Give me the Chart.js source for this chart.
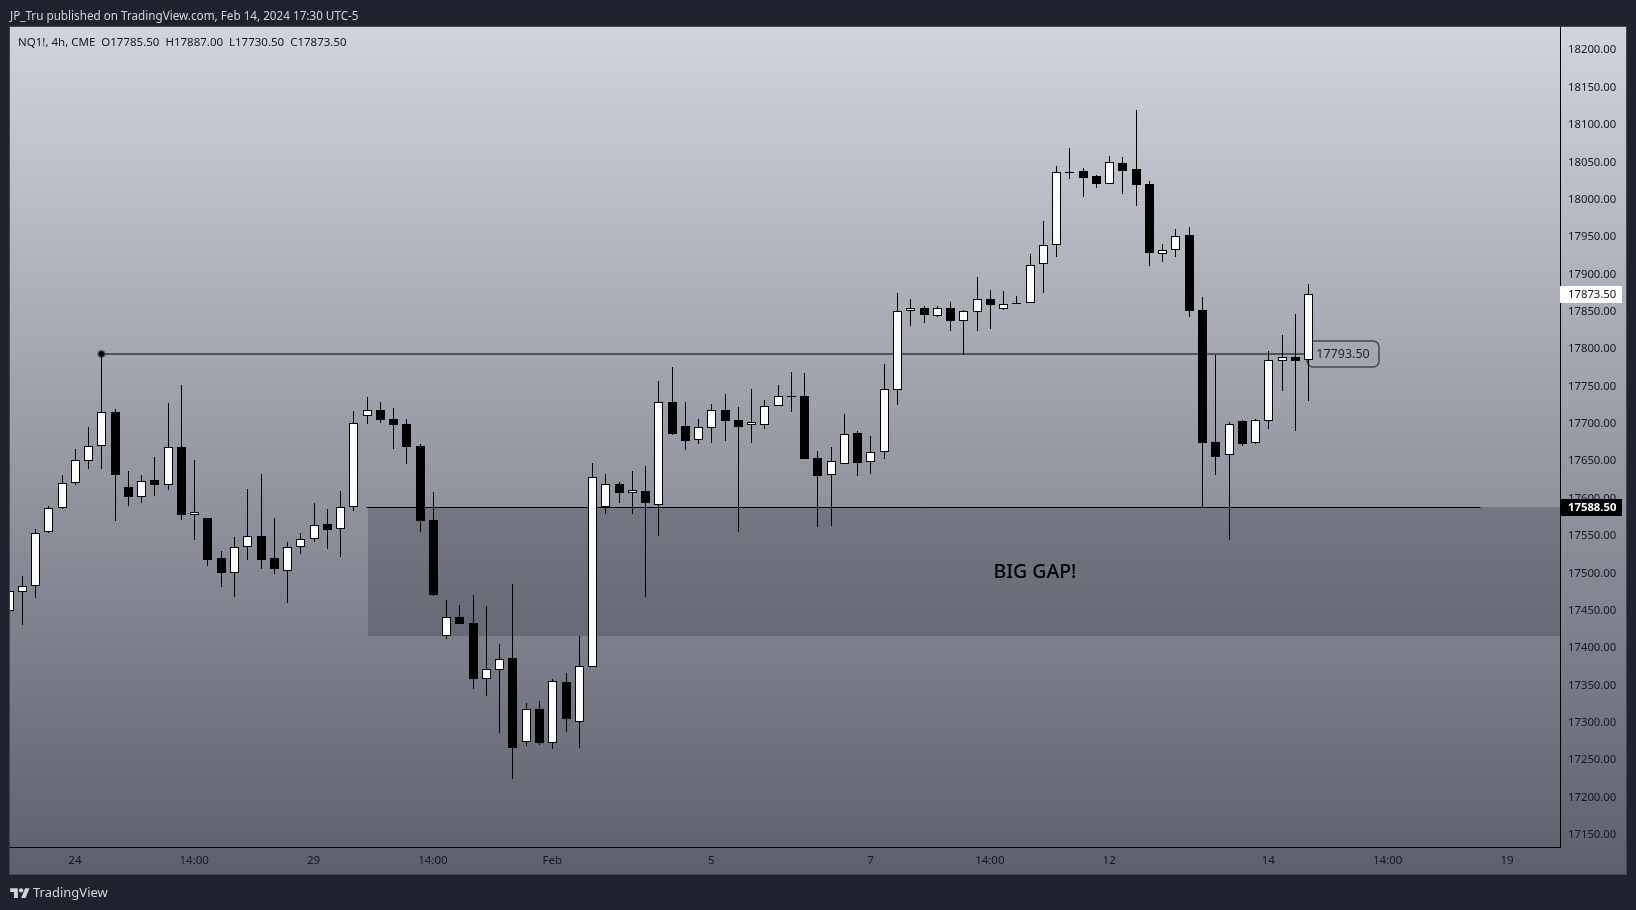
<!DOCTYPE html>
<html>
<head>
<meta charset="utf-8">
<title>NQ1! 4h</title>
<script src="https://cdn.jsdelivr.net/npm/chart.js@4"></script>
<style>
  html, body { margin: 0; padding: 0; width: 1636px; height: 910px; overflow: hidden; background: #1e222d; font-family: "Noto Sans", sans-serif; }
  canvas { position: absolute; left: 0; top: 0; }
  .note { position: absolute; white-space: pre; font-size: 11.7px; line-height: 16px; }
  #published { left: 10px; top: 7px; color: #d1d4dc; }
  #ohlc { left: 18px; top: 34px; color: #131722; font-size: 11.5px; }
  #brand { left: 33px; top: 884px; color: #d1d4dc; font-size: 13px; }
  #logo { position: absolute; left: 10px; top: 886px; }
</style>
</head>
<body>
<canvas id="nqChart" width="1636" height="910"></canvas>
<div class="note" id="published">JP_Tru published on TradingView.com, Feb 14, 2024 17:30 UTC-5</div>
<div class="note" id="ohlc">NQ1!, 4h, CME  O17785.50  H17887.00  L17730.50  C17873.50</div>
<svg id="logo" width="20" height="12" viewBox="0 0 36 22"><path fill="#d1d4dc" d="M14 22H7V11H0V4h14v18zM28 22h-8l7.5-18h8L28 22z"/><circle fill="#d1d4dc" cx="20" cy="8" r="4"/></svg>
<div class="note" id="brand">TradingView</div>
<script>
// candles, one per 4h bar
const opens = [
  17449.5, 17475, 17483, 17555, 17587, 17620.5, 17651, 17670, 17715.5, 17616,
  17602, 17625.5, 17618, 17669, 17578, 17573.5, 17520, 17500.5, 17535, 17550,
  17520, 17503, 17535, 17546, 17565.5, 17559, 17588.5, 17711, 17718.5, 17707,
  17700, 17671, 17572, 17416.5, 17441.5, 17433.5, 17359, 17371, 17386.5, 17275,
  17318.5, 17273.5, 17354.5, 17301.5, 17375, 17589, 17620, 17607, 17610.5, 17591,
  17729.5, 17697.5, 17678, 17694, 17718.5, 17705.5, 17698, 17698, 17724.5, 17737,
  17737, 17654.5, 17631, 17646, 17687.5, 17648.5, 17662, 17746, 17851.5, 17855.5,
  17844.5, 17854.5, 17838, 17850, 17867.5, 17853.5, 17861.5, 17862, 17914, 17939.5,
  18037, 18039, 18031, 18021, 18049.5, 18040.5, 18020.5, 17927.5, 17932.5, 17952.5,
  17852, 17676, 17658, 17704, 17674, 17703.5, 17784.5, 17789.5, 17785.5
];
const highs = [
  17480, 17496, 17559.5, 17589.5, 17632, 17667, 17696, 17793.5, 17719.5, 17637.5,
  17632, 17656, 17728, 17752, 17652, 17573.5, 17529.5, 17548, 17613.5, 17633.5,
  17574.5, 17542.5, 17554.5, 17593.5, 17585.5, 17610.5, 17717.5, 17736, 17729.5, 17721.5,
  17707, 17673.5, 17609.5, 17464, 17457.5, 17470.5, 17456, 17405.5, 17485.5, 17326.5,
  17329, 17358.5, 17366.5, 17416, 17648, 17633.5, 17622.5, 17637.5, 17644, 17757.5,
  17776, 17729.5, 17706.5, 17727, 17740, 17723, 17747, 17732, 17752, 17769.5,
  17768, 17664, 17669.5, 17713.5, 17690.5, 17684, 17780, 17875, 17867, 17857.5,
  17857.5, 17863, 17852, 17897, 17879, 17877.5, 17871, 17927, 17971, 18044.5,
  18069.5, 18043, 18033.5, 18059, 18056.5, 18120.5, 18024.5, 17940.5, 17960.5, 17963,
  17869.5, 17792, 17702.5, 17705.5, 17707, 17797.5, 17819, 17847, 17887
];
const lows = [
  17440, 17430.5, 17467, 17553.5, 17585.5, 17618.5, 17639, 17639, 17570.5, 17590.5,
  17594.5, 17604, 17612, 17572, 17544, 17510.5, 17481.5, 17468, 17518.5, 17505.5,
  17498.5, 17460, 17525.5, 17541.5, 17532, 17521.5, 17584, 17700, 17701.5, 17667,
  17646.5, 17556, 17469.5, 17412, 17432, 17345, 17336, 17286.5, 17225, 17269,
  17270.5, 17265, 17288, 17266.5, 17375, 17580, 17594.5, 17580, 17468, 17550.5,
  17685.5, 17665.5, 17673.5, 17674.5, 17677.5, 17556, 17674.5, 17693.5, 17724.5, 17716,
  17653.5, 17562.5, 17564, 17646, 17630.5, 17633.5, 17653.5, 17725.5, 17831, 17835,
  17843, 17824, 17792, 17824, 17827, 17852, 17860, 17862, 17875, 17923,
  18027, 18003, 18015, 18021, 18007, 17991, 17911, 17916.5, 17923, 17843,
  17589, 17632, 17544, 17671, 17672.5, 17693.5, 17744, 17691, 17730.5
];
const closes = [
  17476, 17483.5, 17554.5, 17587.5, 17621, 17651.5, 17670.5, 17715.5, 17631, 17602,
  17623.5, 17618, 17669, 17578, 17581, 17518.5, 17500.5, 17535.5, 17550, 17518.5,
  17505.5, 17535.5, 17546.5, 17565, 17558.5, 17589, 17701, 17718.5, 17705.5, 17699,
  17669.5, 17570.5, 17470.5, 17441, 17432, 17358.5, 17371.5, 17385, 17266.5, 17318,
  17273, 17355.5, 17305, 17375.5, 17629, 17619.5, 17608, 17610.5, 17593.5, 17729,
  17687, 17677.5, 17695.5, 17718.5, 17704, 17696, 17702.5, 17723.5, 17737, 17735.5,
  17653.5, 17630.5, 17650.5, 17686.5, 17648, 17662.5, 17746.5, 17851.5, 17855.5, 17845.5,
  17854.5, 17837.5, 17850.5, 17867.5, 17859, 17861, 17860, 17913, 17940, 18037,
  18036, 18029.5, 18020.5, 18050.5, 18039, 18019, 17928.5, 17933, 17952, 17851,
  17675, 17656, 17699.5, 17673.5, 17705, 17785, 17789, 17784.5, 17873.5
];

// axes
const slotCount = 118;
const tickSlots = [5, 14, 23, 32, 41, 53, 65, 74, 83, 95, 104, 113];
const tickLabels = ["24", "14:00", "29", "14:00", "Feb", "5", "7", "14:00", "12", "14", "14:00", "19"];
const priceTicks = [
  17150, 17200, 17250, 17300, 17350, 17400, 17450, 17500, 17550, 17600, 17650, 17700,
  17750, 17800, 17850, 17900, 17950, 18000, 18050, 18100, 18150, 18200
];
const priceMin = 17133.9;
const priceMax = 18231;

// drawings on the chart
const levelPrice = 17793.5;
const levelStart = 7;
const levelEnd = 98;
const gapTop = 17588.5;
const gapBottom = 17416.5;
const gapStart = 27;
const gapLineEnd = 111;
const gapText = "BIG GAP!";
const gapTextSlot = 77.4;
const gapTextPrice = 17501;
const lastPrice = 17873.5;

const categories = Array.from({ length: slotCount }, (_, i) => {
  const at = tickSlots.indexOf(i);
  return at >= 0 ? tickLabels[at] : "";
});
const bodies = opens.map((o, i) => [o, closes[i]]);
const wicks = lows.map((l, i) => [l, highs[i]]);
const bodyColors = opens.map((o, i) => (closes[i] > o ? "#ffffff" : "#000000"));

function lineBetween(from, to, price) {
  const pts = new Array(slotCount).fill(null);
  pts[from] = price;
  pts[to] = price;
  return pts;
}

// panel gradient behind everything
const panelBackground = {
  id: "panelBackground",
  beforeDraw(chart) {
    const c = chart.ctx;
    const top = chart.chartArea.top;
    const bottom = chart.scales.x.bottom;
    const g = c.createLinearGradient(0, top, 0, bottom);
    g.addColorStop(0, "#d1d4dc");
    g.addColorStop(1, "#5d606b");
    c.fillStyle = g;
    c.fillRect(10, top, 1616, bottom - top);
  },
};

// keep the candles on whole pixels like the original
const snapToPixels = {
  id: "snapToPixels",
  afterDatasetsUpdate(chart) {
    chart.data.datasets.forEach((ds, d) => {
      const meta = chart.getDatasetMeta(d);
      meta.data.forEach((el, i) => {
        if (ds.type === "line") {
          el.y = Math.round(el.y) + (ds.borderWidth % 2 ? 0.5 : 0);
          return;
        }
        el.x = Math.round(el.x) + 0.5;
        el.y = Math.round(el.y);
        el.base = Math.round(el.base);
        if (el.y === el.base) el.y -= 1;
        // a small white body still shows white between its borders
        if (d === 0 && bodyColors[i] === "#ffffff" && el.base - el.y < 3) el.y = el.base - 3;
      });
    });
  },
};

// gap zone and callout under the candles
const underCandles = {
  id: "underCandles",
  beforeDatasetsDraw(chart) {
    const { ctx: c, scales, chartArea } = chart;
    const left = Math.round(scales.x.getPixelForValue(gapStart)) + 1;
    const top = Math.round(scales.y.getPixelForValue(gapTop));
    const bottom = Math.round(scales.y.getPixelForValue(gapBottom));
    c.save();
    c.fillStyle = "rgba(30, 34, 45, 0.24)";
    c.fillRect(left, top, chartArea.right - left, bottom - top);

    const levelY = Math.round(scales.y.getPixelForValue(levelPrice));
    const boxLeft = Math.round(scales.x.getPixelForValue(levelEnd)) - 1;
    c.strokeStyle = "#434651";
    c.lineWidth = 1.5;
    c.beginPath();
    c.roundRect(boxLeft, levelY - 13, 72, 26, 6);
    c.stroke();
    c.fillStyle = "#1e222d";
    c.font = '12.5px "Noto Sans"';
    c.textAlign = "center";
    c.textBaseline = "middle";
    c.fillText(levelPrice.toFixed(2), boxLeft + 36, levelY);

    c.fillStyle = "#000000";
    c.font = '500 19.5px "Noto Sans"';
    c.fillText(gapText, scales.x.getPixelForValue(gapTextSlot), scales.y.getPixelForValue(gapTextPrice));
    c.restore();
  },
};

// panel frame, and price tags on top of the axis labels
const priceTags = {
  id: "priceTags",
  afterDraw(chart) {
    const { ctx: c, scales, chartArea } = chart;
    const tagLeft = scales.y.left;
    const tag = (price, bg, fg, weight) => {
      const y = Math.round(scales.y.getPixelForValue(price));
      c.fillStyle = bg;
      c.fillRect(tagLeft, y - 8, 62, 17);
      c.fillStyle = fg;
      c.font = weight + '11.3px "Noto Sans"';
      c.textAlign = "left";
      c.textBaseline = "middle";
      c.fillText(price.toFixed(2), tagLeft + 8, y + 1);
    };
    c.save();
    // the first candle is cut off at the panel edge
    c.fillStyle = "#1e222d";
    c.fillRect(0, chartArea.top, 10, scales.x.bottom - chartArea.top);
    c.strokeStyle = "#434651";
    c.lineWidth = 1;
    c.strokeRect(9.5, chartArea.top - 0.5, 1617, scales.x.bottom - chartArea.top + 1);
    tag(lastPrice, "#ffffff", "#131722", "");
    tag(gapTop, "#000000", "#ffffff", "bold ");
    c.restore();
  },
};

new Chart(document.getElementById("nqChart").getContext("2d"), {
  type: "bar",
  data: {
    labels: categories,
    datasets: [
      {
        label: "Candle bodies",
        data: bodies,
        backgroundColor: bodyColors,
        borderColor: "#000000",
        borderWidth: 1,
        borderSkipped: false,
        barThickness: 9,
        inflateAmount: 0,
        grouped: false,
        order: 1,
      },
      {
        label: "Candle wicks",
        data: wicks,
        backgroundColor: "#000000",
        borderWidth: 0,
        barThickness: 1,
        inflateAmount: 0,
        grouped: false,
        order: 2,
      },
      {
        type: "line",
        label: "Level",
        data: lineBetween(levelStart, levelEnd, levelPrice),
        borderColor: "#50535c",
        borderWidth: 2,
        spanGaps: true,
        pointRadius: (ctx) => (ctx.dataIndex === levelStart ? 3 : 0),
        pointBackgroundColor: "#000000",
        pointBorderColor: "rgba(40, 44, 55, 0.55)",
        pointBorderWidth: 2,
        order: 3,
      },
      {
        type: "line",
        label: "Gap top",
        data: lineBetween(gapStart, gapLineEnd, gapTop),
        borderColor: "#000000",
        borderWidth: 1,
        spanGaps: true,
        pointRadius: 0,
        order: 3,
      },
    ],
  },
  options: {
    responsive: false,
    animation: false,
    layout: { padding: { left: 8.6, top: 27, right: 10, bottom: 36 } },
    plugins: {
      legend: { display: false },
      tooltip: { enabled: false },
    },
    scales: {
      x: {
        offset: false,
        afterFit: (scale) => { scale.height = 27; },
        grid: { display: false, drawTicks: false },
        border: { display: true, color: "#000000", width: 1 },
        ticks: {
          autoSkip: false,
          maxRotation: 0,
          padding: 7,
          color: "#131722",
          font: { family: "Noto Sans", size: 11.5 },
        },
      },
      y: {
        position: "right",
        min: priceMin,
        max: priceMax,
        afterFit: (scale) => { scale.width = 66; },
        afterBuildTicks: (scale) => { scale.ticks = priceTicks.map((value) => ({ value })); },
        grid: { display: false, drawTicks: false },
        border: { display: true, color: "#000000", width: 1 },
        ticks: {
          padding: 8,
          color: "#131722",
          font: { family: "Noto Sans", size: 11.3 },
          callback: (v) => Number(v).toFixed(2),
        },
      },
    },
  },
  plugins: [panelBackground, snapToPixels, underCandles, priceTags],
});
</script>
</body>
</html>
